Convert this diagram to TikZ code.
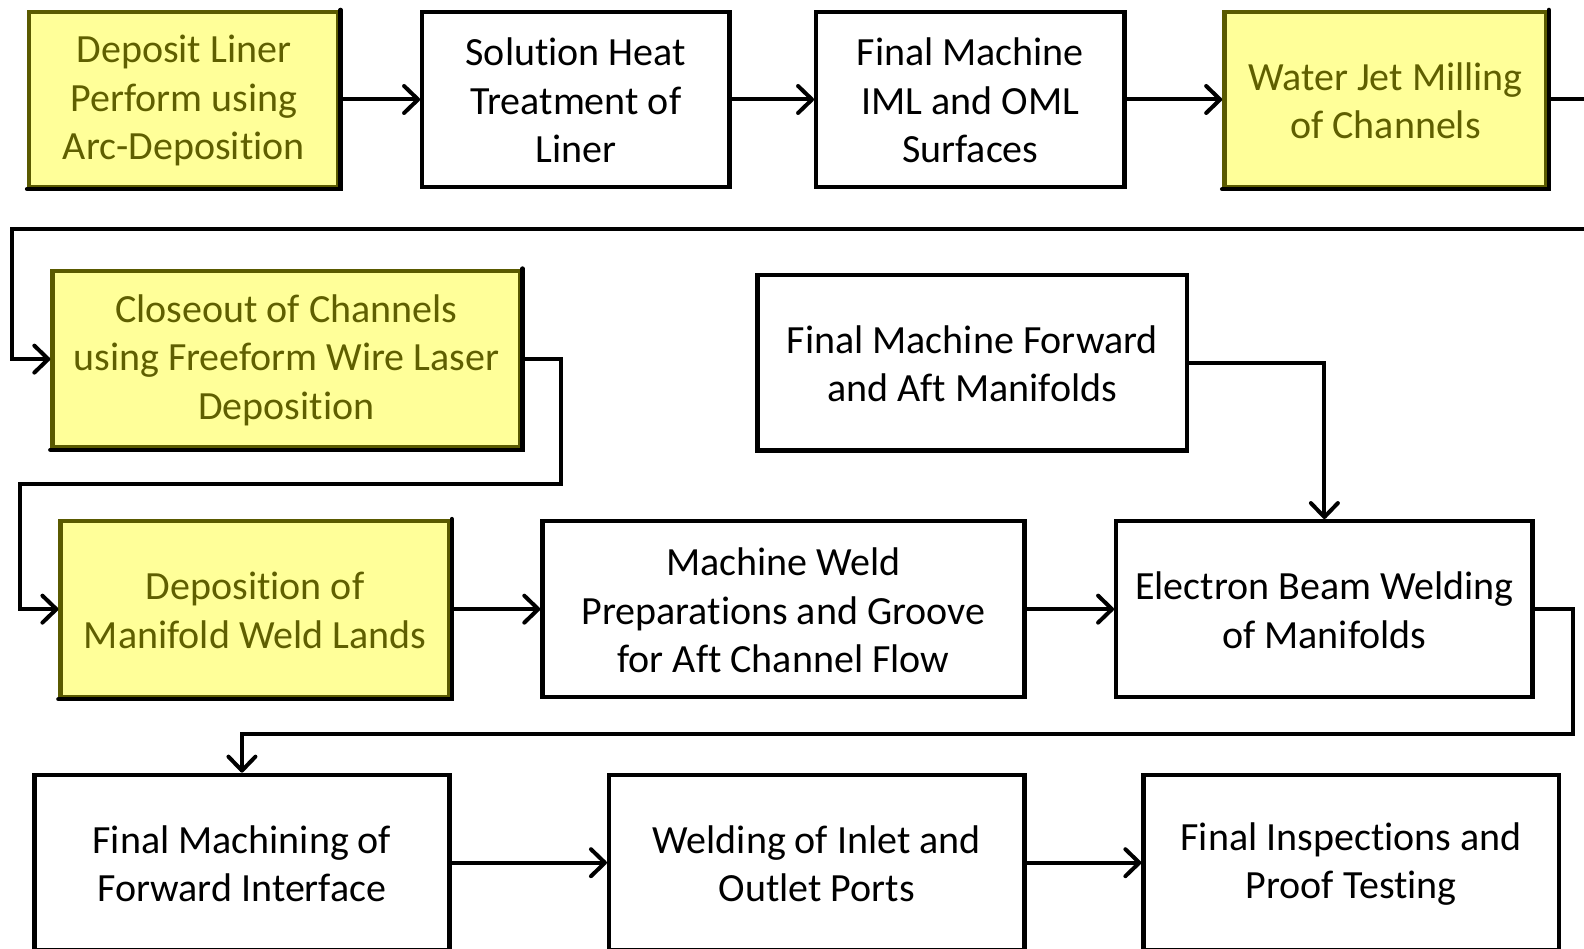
\documentclass[tikz,border=0pt]{standalone}
\usepackage{fontspec}
\setmainfont{Carlito}[Ligatures=NoCommon]
\usetikzlibrary{arrows.meta}
\definecolor{boxyellow}{HTML}{FFFF99}
\definecolor{olivetext}{HTML}{5F5F00}
\definecolor{olivebord}{HTML}{5A5A00}
\newcommand\tup{\rule{0pt}{15pt}}
\begin{document}
\begin{tikzpicture}[x=0.5051pt,y=-0.5051pt,
  box/.style={draw=black, line width=2.2pt, fill=white, align=center,
    font=\fontsize{20}{24.2}\selectfont, inner sep=0pt},
  ybox/.style={box, fill=boxyellow, draw=olivebord, text=olivetext},
  conn/.style={line width=2pt, line join=miter, -{Straight Barb[length=7pt,width=13.5pt,line width=2pt,round]}},
  plain/.style={line width=2pt, line join=miter}]
\useasboundingbox (0,0) rectangle (1568,939);
\clip (0,0) rectangle (1568,939);
% top row
\node[ybox, minimum width=306*0.5051pt, minimum height=173*0.5051pt] (b1) at (182,98.5) {\tup Deposit Liner\\Perform using\\Arc-Deposition};
\node[box, minimum width=304*0.5051pt, minimum height=173*0.5051pt] (b2) at (570,98.5) {\tup Solution Heat\\Treatment of\\Liner};
\node[box, minimum width=305*0.5051pt, minimum height=173*0.5051pt] (b3) at (960.5,98.5) {\tup Final Machine\\IML and OML\\Surfaces};
\node[ybox, minimum width=319*0.5051pt, minimum height=173*0.5051pt] (b4) at (1371.5,98.5) {\tup Water Jet Milling\\of Channels};
% second row
\node[ybox, minimum width=463*0.5051pt, minimum height=175*0.5051pt] (b5) at (283.5,355.5) {\tup Closeout of Channels\\using Freeform Wire Laser\\Deposition};
\node[box, minimum width=425*0.5051pt, minimum height=174*0.5051pt] (b9) at (962.5,359) {\tup Final Machine Forward\\and Aft Manifolds};
% third row
\node[ybox, minimum width=385*0.5051pt, minimum height=174*0.5051pt] (b6) at (252.5,603) {\tup Deposition of\\Manifold Weld Lands};
\node[box, minimum width=477*0.5051pt, minimum height=174*0.5051pt] (b7) at (775.5,603) {\tup Machine Weld\\Preparations and Groove\\for Aft Channel Flow};
\node[box, minimum width=412*0.5051pt, minimum height=174*0.5051pt] (b8) at (1311,603) {\tup Electron Beam Welding\\of Manifolds};
% bottom row
\node[box, minimum width=411*0.5051pt, minimum height=174*0.5051pt] (b10) at (239.5,854) {\tup Final Machining of\\Forward Interface};
\node[box, minimum width=411*0.5051pt, minimum height=174*0.5051pt] (b11) at (808.5,854) {\tup Welding of Inlet and\\Outlet Ports};
\node[box, minimum width=411*0.5051pt, minimum height=174*0.5051pt] (b12) at (1337.5,854) {\tup Final Inspections and\\Proof Testing};
% black shadow edges on yellow boxes
\foreach \n in {b1,b4,b5,b6}{
  \draw[line width=2.2pt, black, line cap=round] (\n.north east) -- (\n.south east) -- (\n.south west);
}
% connectors
\draw[conn] (b1) -- (b2);
\draw[conn] (b2) -- (b3);
\draw[conn] (b3) -- (b4);
\coordinate (e1) at (1580,98.5);
\draw[plain] (b4.east) -- (e1);
\coordinate (e2) at (1580,227);
\coordinate (c1) at (12,227);
\draw[conn] (e2) -- (c1) |- (b5.west);
\coordinate (k1) at (555,479);
\coordinate (k2) at (20,479);
\draw[conn] (b5.east) -| (k1) -- (k2) |- (b6.west);
\draw[conn] (b6) -- (b7);
\draw[conn] (b7) -- (b8);
\draw[conn] (b9.east) -| (b8.north);
\coordinate (m1) at (1557,727);
\coordinate (m2) at (239.5,727);
\draw[conn] (b8.east) -| (m1) -- (m2) -- (b10.north);
\draw[conn] (b10) -- (b11);
\draw[conn] (b11) -- (b12);
\end{tikzpicture}
\end{document}
